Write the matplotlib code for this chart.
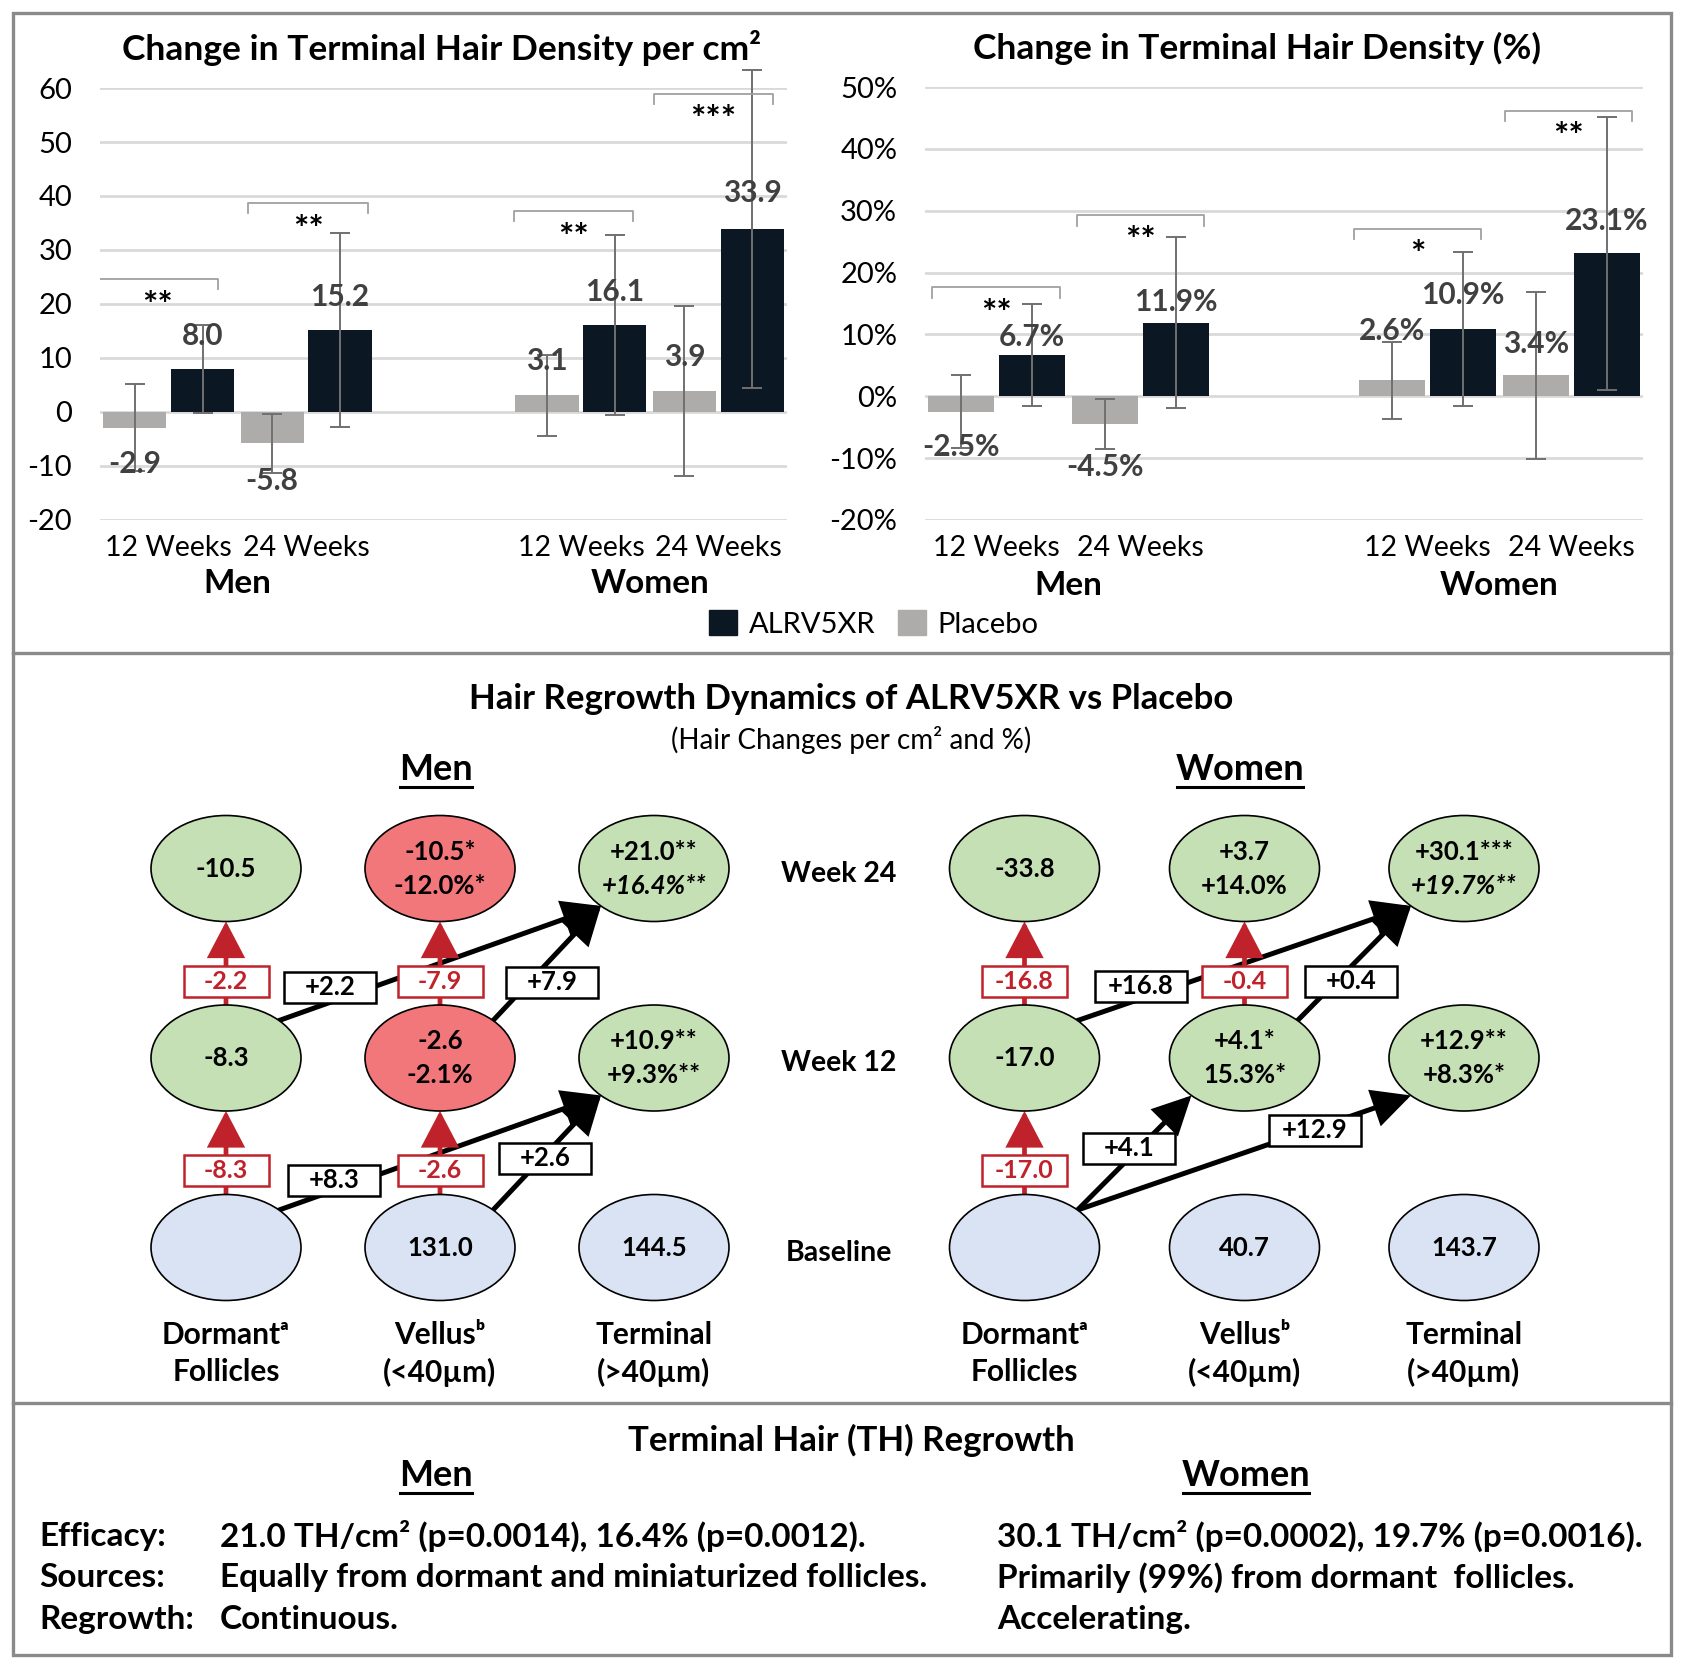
import matplotlib.pyplot as plt
from matplotlib.patches import Ellipse, Rectangle, FancyArrowPatch, Patch, ArrowStyle
import numpy as np

plt.rcParams['font.family'] = ['Lato', 'DejaVu Sans']

W, H = 1684, 1667

# ---------------- data: top bar charts ----------------
week_labels = ['12 Weeks', '24 Weeks', '12 Weeks', '24 Weeks']
group_labels = ['Men', 'Women']

dens_alrv = [8.0, 15.2, 16.1, 33.9]
dens_alrv_err = [8.2, 18.0, 16.7, 29.4]
dens_plac = [-2.9, -5.8, 3.1, 3.9]
dens_plac_err = [8.0, 5.5, 7.5, 15.7]
dens_sig = ['**', '**', '**', '***']

pct_alrv = [6.7, 11.9, 10.9, 23.1]
pct_alrv_err = [8.2, 13.8, 12.5, 22.1]
pct_plac = [-2.5, -4.5, 2.6, 3.4]
pct_plac_err = [5.9, 4.1, 6.2, 13.5]
pct_sig = ['**', '**', '*', '**']

# ---------------- data: regrowth diagram ----------------
stage_labels = ['Week 24', 'Week 12', 'Baseline']
follicle_labels = ['Dormant\u1d43\nFollicles', 'Vellus\u1d47\n(<40µm)', 'Terminal\n(>40µm)']

men_cells = [[['-10.5'], ['-10.5*', '-12.0%*'], ['+21.0**', '+16.4%**']],
             [['-8.3'], ['-2.6', '-2.1%'], ['+10.9**', '+9.3%**']],
             [[], ['131.0'], ['144.5']]]
women_cells = [[['-33.8'], ['+3.7', '+14.0%'], ['+30.1***', '+19.7%**']],
               [['-17.0'], ['+4.1*', '15.3%*'], ['+12.9**', '+8.3%*']],
               [[], ['40.7'], ['143.7']]]
men_fill = [['g', 'r', 'g'], ['g', 'r', 'g'], ['b', 'b', 'b']]
women_fill = [['g', 'g', 'g'], ['g', 'g', 'g'], ['b', 'b', 'b']]

# losses: (column, from row, to row, label)
men_losses = [(0, 2, 1, '-8.3'), (0, 1, 0, '-2.2'), (1, 2, 1, '-2.6'), (1, 1, 0, '-7.9')]
women_losses = [(0, 2, 1, '-17.0'), (0, 1, 0, '-16.8'), (1, 1, 0, '-0.4')]
# gains: (from (col,row), to (col,row), label)
men_gains = [((0, 2), (2, 1), '+8.3'), ((1, 2), (2, 1), '+2.6'),
             ((0, 1), (2, 0), '+2.2'), ((1, 1), (2, 0), '+7.9')]
women_gains = [((0, 2), (1, 1), '+4.1'), ((0, 2), (2, 1), '+12.9'),
               ((0, 1), (2, 0), '+16.8'), ((1, 1), (2, 0), '+0.4')]

# ---------------- data: summary ----------------
summary_rows = ['Efficacy:', 'Sources:', 'Regrowth:']
men_summary = ['21.0 TH/cm\u00b2 (p=0.0014), 16.4% (p=0.0012).',
               'Equally from dormant and miniaturized follicles.',
               'Continuous.']
women_summary = ['30.1 TH/cm\u00b2 (p=0.0002), 19.7% (p=0.0016).',
                 'Primarily (99%) from dormant  follicles.',
                 'Accelerating.']

# ---------------- styles ----------------
ALRV = '#0B1722'
PLAC = '#AEABAB'
GRID = '#D9D9D9'
LABEL = '#404040'
FILLS = {'g': '#C5E0B4', 'r': '#F2777B', 'b': '#DAE3F3'}
RED = '#C0222B'
BORDER = '#8A8A8A'

fig = plt.figure(figsize=(W / 100, H / 100), dpi=100)


def px_rect(x0, y0, x1, y1):
    return [x0 / W, 1 - y1 / H, (x1 - x0) / W, (y1 - y0) / H]


xpos = np.array([0, 1, 3, 4])
off, bw = 0.247, 0.46


def bar_panel(ax, alrv, alrv_err, plac, plac_err, sig, ylim, step, fmt, title, title_x,
              lab_fmt, lab_y, br_y, br_x, star_dy, tick_dy, lab_y_week, lab_y_group):
    ax.bar(xpos - off, plac, bw, color=PLAC, zorder=2)
    ax.bar(xpos + off, alrv, bw, color=ALRV, zorder=2)
    ekw = dict(fmt='none', ecolor='#707070', elinewidth=1.4, capsize=7, capthick=1.4, zorder=3)
    for xs_, v_, e_ in [(xpos - off, plac, plac_err), (xpos + off, alrv, alrv_err)]:
        cont = ax.errorbar(xs_, v_, yerr=e_, **ekw)
        for part in cont.lines:
            if part is None:
                continue
            for art in (part if isinstance(part, tuple) else [part]):
                art.set_clip_on(False)
    ax.set_xlim(-0.5, 4.5)
    ax.set_ylim(*ylim)
    ticks = np.arange(ylim[0], ylim[1] + 0.1, step)
    ax.set_yticks(ticks)
    ax.set_yticklabels([fmt(t) for t in ticks], fontsize=21, color='black')
    ax.tick_params(axis='y', length=0, pad=20)
    ax.set_xticks([])
    ax.grid(axis='y', color=GRID, lw=2)
    ax.set_axisbelow(True)
    for s in ax.spines.values():
        s.set_visible(False)
    ax.set_title(title, fontsize=25.5, fontweight='bold', pad=20, x=title_x)
    # value labels
    vals = list(plac) + list(alrv)
    xs = list(xpos - off) + list(xpos + off)
    for x, v, y in zip(xs, vals, lab_y):
        ax.text(x, y, lab_fmt(v), ha='center', va='center', fontsize=21.5,
                fontweight='bold', color=LABEL, zorder=4)
    # significance brackets
    for x, s, by, (bl, brr) in zip(xpos, sig, br_y, br_x):
        ax.plot([x + bl, x + bl, x + brr, x + brr], [by - tick_dy, by, by, by - tick_dy],
                color='#A0A0A0', lw=1.3, zorder=3)
        ax.text(x + (bl + brr) / 2, by - star_dy, s, ha='center', va='center',
                fontsize=26, fontweight='bold', zorder=4)
    tr = ax.get_xaxis_transform()
    for x, lab in zip(xpos, week_labels):
        ax.text(x, lab_y_week, lab, transform=tr, ha='center', va='center', fontsize=20.5)
    for x, lab in zip([0.5, 3.5], group_labels):
        ax.text(x, lab_y_group, lab, transform=tr, ha='center', va='center',
                fontsize=24, fontweight='bold')


ax1 = fig.add_axes(px_rect(100, 88, 787, 520))
bar_panel(ax1, dens_alrv, dens_alrv_err, dens_plac, dens_plac_err, dens_sig,
          (-20, 60), 10, lambda t: f'{t:.0f}',
          'Change in Terminal Hair Density per cm\u00b2', 0.497, lambda v: f'{v:.1f}',
          [-9.6, -12.7, 9.4, 10.1, 14.0, 21.3, 22.3, 40.5],
          [24.6, 38.7, 37.2, 58.9],
          [(-0.52, 0.36), (-0.42, 0.45), (-0.49, 0.38), (-0.47, 0.40)],
          5.0, 1.9, -0.065, -0.148)

ax2 = fig.add_axes(px_rect(925, 87, 1643, 520))
bar_panel(ax2, pct_alrv, pct_alrv_err, pct_plac, pct_plac_err, pct_sig,
          (-20, 50), 10, lambda t: f'{t:.0f}%',
          'Change in Terminal Hair Density (%)', 0.462, lambda v: f'{v:.1f}%',
          [-8.2, -11.5, 10.6, 8.5, 9.55, 15.3, 16.4, 28.3],
          [17.6, 29.3, 27.1, 46.2],
          [(-0.45, 0.44), (-0.44, 0.445), (-0.51, 0.37), (-0.46, 0.42)],
          4.3, 1.7, -0.065, -0.152)

fig.legend(handles=[Patch(color=ALRV, label='ALRV5XR'), Patch(color=PLAC, label='Placebo')],
           loc='center', bbox_to_anchor=(874 / W, 1 - 624 / H), ncol=2, frameon=False,
           fontsize=21, handlelength=0.95, handleheight=0.95, handletextpad=0.4,
           columnspacing=0.8)

# ---------------- overlay in pixel coordinates ----------------
ov = fig.add_axes([0, 0, 1, 1])
ov.set_xlim(0, W)
ov.set_ylim(H, 0)
ov.axis('off')

ov.add_patch(Rectangle((13, 13), 1658, 1642, fill=False, ec=BORDER, lw=2.4))
ov.plot([13, 1671], [653, 653], color=BORDER, lw=2.4)
ov.plot([13, 1671], [1403, 1403], color=BORDER, lw=2.4)

renderer = fig.canvas.get_renderer()


def underlined(x, y, s, size):
    t = ov.text(x, y, s, ha='center', va='center', fontsize=size, fontweight='bold')
    bb = t.get_window_extent(renderer=renderer)
    ov.plot([bb.x0 + 1, bb.x1 - 1], [y + 18, y + 18], color='black', lw=2.2)


ov.text(851, 699, 'Hair Regrowth Dynamics of ALRV5XR vs Placebo', ha='center', va='center',
        fontsize=25, fontweight='bold')
ov.text(851, 740, '(Hair Changes per cm\u00b2 and %)', ha='center', va='center', fontsize=20)

rows_y = [868.5, 1058, 1247.5]
EA, EB = 75, 53


def ell_pt(cx, cy, deg):
    r = np.radians(deg)
    return cx + EA * np.cos(r), cy - EB * np.sin(r)


def panel(cols_x, cells, fills, losses, gains, gain_boxes, header_x, header):
    underlined(header_x, 769, header, 26)
    for r, cy in enumerate(rows_y):
        for c, cx in enumerate(cols_x):
            ov.add_patch(Ellipse((cx, cy), 2 * EA, 2 * EB, fc=FILLS[fills[r][c]],
                                 ec='black', lw=1.2, zorder=3))
            lines = cells[r][c]
            n = len(lines)
            for i, s in enumerate(lines):
                italic = (r == 0 and c == 2 and i == 1)
                ov.text(cx, cy + (i - (n - 1) / 2) * 34, s, ha='center', va='center',
                        fontsize=18.5, fontweight='bold',
                        fontstyle='italic' if italic else 'normal', zorder=5)
    for c, lab in enumerate(follicle_labels):
        l1, l2 = lab.split('\n')
        ov.text(cols_x[c], 1335, l1, ha='center', va='center', fontsize=21.5, fontweight='bold')
        ov.text(cols_x[c], 1372, l2, ha='center', va='center', fontsize=21.5, fontweight='bold')
    # black gain arrows
    for ((c0, r0), (c1, r1), lab), (bx, by) in zip(gains, gain_boxes):
        p0 = ell_pt(cols_x[c0], rows_y[r0], 45)
        p1 = ell_pt(cols_x[c1], rows_y[r1], 225)
        ov.add_patch(FancyArrowPatch(p0, p1, arrowstyle=ArrowStyle('-|>', head_length=22, head_width=11),
                                     mutation_scale=1, lw=3.6, color='black', shrinkA=0, shrinkB=0,
                                     joinstyle='miter', zorder=2))
        ov.add_patch(Rectangle((bx - 46, by - 15.5), 92, 31, fc='white', ec='black', lw=1.8, zorder=4))
        ov.text(bx, by, lab, ha='center', va='center', fontsize=18.5, fontweight='bold', zorder=5)
    # red loss arrows
    for c, r0, r1, lab in losses:
        cx = cols_x[c]
        y0 = rows_y[r0] - EB
        y1 = rows_y[r1] + EB
        ov.add_patch(FancyArrowPatch((cx, y0), (cx, y1), arrowstyle=ArrowStyle('-|>', head_length=21, head_width=11),
                                     mutation_scale=1, lw=3.4, color=RED, shrinkA=0, shrinkB=0,
                                     joinstyle='miter', zorder=2.5))
        ov.add_patch(Rectangle((cx - 42.5, y0 - 24 - 15.5), 85, 31, fc='white', ec=RED, lw=1.8, zorder=4))
        ov.text(cx, y0 - 24, lab, ha='center', va='center', fontsize=18, fontweight='bold',
                color=RED, zorder=5)


panel([226, 440, 654], men_cells, men_fill, men_losses, men_gains,
      [(334, 1180), (545, 1158), (330, 987), (552, 982)], 436, 'Men')
panel([1024.5, 1244.5, 1464], women_cells, women_fill, women_losses, women_gains,
      [(1129, 1148), (1315, 1130), (1141, 986), (1351, 981)], 1240, 'Women')

for y, lab in zip(rows_y, stage_labels):
    ov.text(839, y + 5, lab, ha='center', va='center', fontsize=20.5, fontweight='bold')

# ---------------- summary ----------------
ov.text(851, 1440, 'Terminal Hair (TH) Regrowth', ha='center', va='center', fontsize=25,
        fontweight='bold')
underlined(436, 1475, 'Men', 26)
underlined(1246, 1475, 'Women', 26)
for i, (lab, m, w) in enumerate(zip(summary_rows, men_summary, women_summary)):
    y = 1536 + i * 41.5
    ov.text(39, y, lab, ha='left', va='center', fontsize=24, fontweight='bold')
    ov.text(220, y, m, ha='left', va='center', fontsize=24, fontweight='bold')
    ov.text(997, y, w, ha='left', va='center', fontsize=24, fontweight='bold')

fig.savefig('out.png', dpi=100, facecolor='white')
